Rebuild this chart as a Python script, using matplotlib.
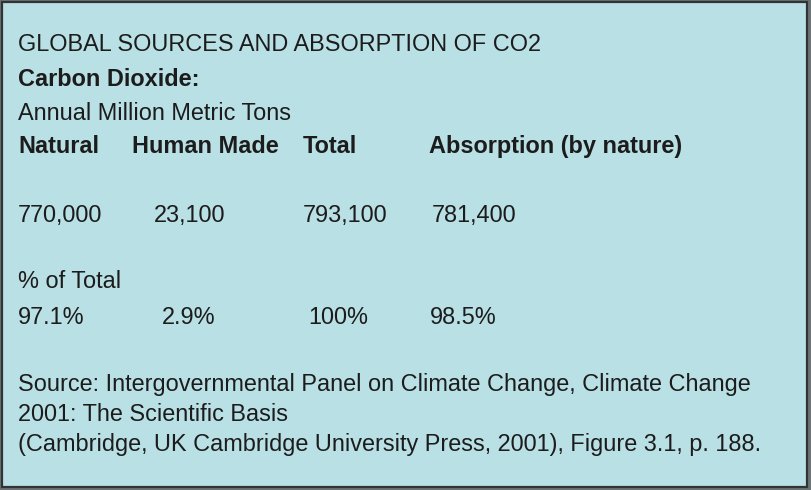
import matplotlib.pyplot as plt
from matplotlib.patches import Rectangle

# Tabulas dati
title = 'GLOBAL SOURCES AND ABSORPTION OF CO2'
subtitle = 'Carbon Dioxide:'
units = 'Annual Million Metric Tons'
headers = ['Natural', 'Human Made', 'Total', 'Absorption (by nature)']
values = ['770,000', '23,100', '793,100', '781,400']
pct_label = '% of Total'
percents = ['97.1%', '2.9%', '100%', '98.5%']
source_lines = [
    'Source: Intergovernmental Panel on Climate Change, Climate Change',
    '2001: The Scientific Basis',
    '(Cambridge, UK Cambridge University Press, 2001), Figure 3.1, p. 188.',
]

W, H = 811, 490
bg = '#b9e0e5'
fg = '#1c1c1c'
fs = 16.9

fig = plt.figure(figsize=(W / 100, H / 100), dpi=100)
ax = fig.add_axes([0, 0, 1, 1])
ax.set_xlim(0, W)
ax.set_ylim(H, 0)
ax.axis('off')

# Fons ar tumšu rāmi
ax.add_patch(Rectangle((2, 2), W - 6, H - 5, facecolor=bg,
                       edgecolor='#333333', linewidth=1.6))

def txt(x, y, s, bold=False):
    ax.text(x, y, s, fontsize=fs, color=fg, family='Liberation Sans',
            fontweight='bold' if bold else 'normal', va='baseline', ha='left')

txt(18, 51, title)
txt(18, 86, subtitle, bold=True)
txt(18, 120, units)

header_x = [18, 132, 303, 429]
value_x = [18, 154, 303, 432]
pct_x = [18, 162, 308, 430]
for x, s in zip(header_x, headers):
    txt(x, 153, s, bold=True)
for x, s in zip(value_x, values):
    txt(x, 222, s)
txt(18, 288, pct_label)
for x, s in zip(pct_x, percents):
    txt(x, 324, s)

for y, s in zip([391, 421, 451], source_lines):
    txt(18, y, s)

fig.savefig('out.png', dpi=100, facecolor='#6a7476')
